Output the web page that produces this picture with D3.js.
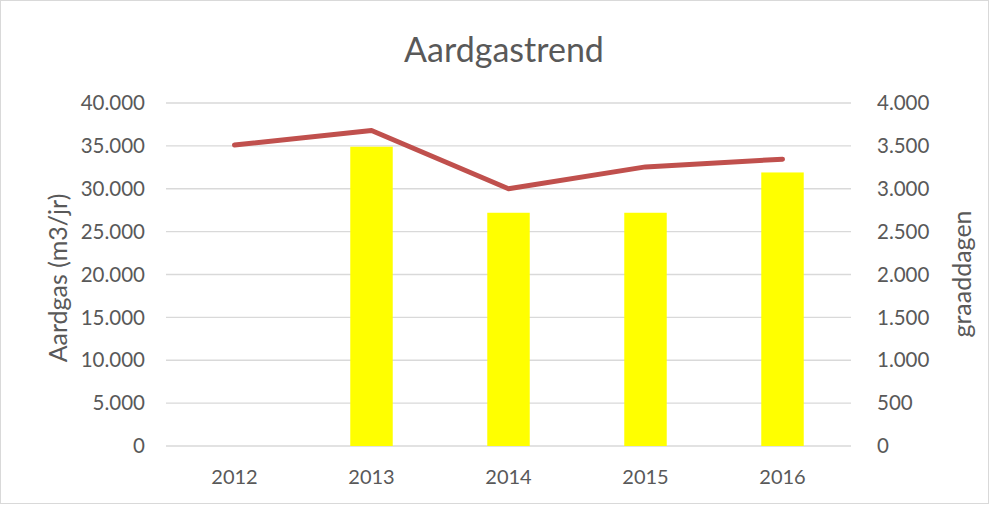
<!DOCTYPE html>
<html><head><meta charset="utf-8">
<script src="https://cdn.jsdelivr.net/npm/d3@7"></script>
<style>body{margin:0;background:#fff}text{font-family:Lato,"Open Sans",sans-serif;fill:#595959}</style>
</head><body><svg id="c" width="990" height="505"></svg>
<script>
const years = ["2012","2013","2014","2015","2016"];
const gasValues = [null, 34900, 27200, 27200, 31900];
const degreeDays = [3510, 3680, 3000, 3255, 3345];
const leftTicks = [0,5000,10000,15000,20000,25000,30000,35000,40000];
const rightTicks = [0,500,1000,1500,2000,2500,3000,3500,4000];

const svg = d3.select("#c");
const W=990,H=505, L=166, R=851, T=103, B=446;
svg.append("rect").attr("x",0.5).attr("y",0.5).attr("width",W-2).attr("height",H-2).attr("fill","#fff").attr("stroke","#d9d9d9");
const x = d3.scaleBand().domain(years).range([L,R]);
const yL = d3.scaleLinear().domain([0,40000]).range([B,T]);
const yR = d3.scaleLinear().domain([0,4000]).range([B,T]);
const fmt = d3.formatLocale({decimal:",",thousands:".",grouping:[3]}).format(",");

svg.append("g").selectAll("line").data(leftTicks).join("line")
  .attr("x1",L).attr("x2",R).attr("y1",d=>yL(d)).attr("y2",d=>yL(d))
  .attr("stroke","#d9d9d9").attr("stroke-width",1.3);
svg.append("g").selectAll("text").data(leftTicks).join("text")
  .attr("x",145).attr("y",d=>yL(d)).attr("dy","0.35em").attr("text-anchor","end")
  .attr("font-size",20.5).text(d=>fmt(d));
svg.append("g").selectAll("text").data(rightTicks).join("text")
  .attr("x",877).attr("y",d=>yR(d)).attr("dy","0.35em").attr("text-anchor","start")
  .attr("font-size",20.5).text(d=>fmt(d));

const bw = x.bandwidth()*0.31;
svg.append("g").selectAll("rect").data(years.map((y,i)=>({y,v:gasValues[i]})).filter(d=>d.v!=null)).join("rect")
  .attr("x",d=>x(d.y)+x.bandwidth()/2-bw/2).attr("width",bw)
  .attr("y",d=>yL(d.v)).attr("height",d=>B-yL(d.v)).attr("fill","#ffff00");

svg.append("path").datum(degreeDays)
  .attr("d",d3.line().x((d,i)=>x(years[i])+x.bandwidth()/2).y(d=>yR(d)))
  .attr("fill","none").attr("stroke","#c0504d").attr("stroke-width",5).attr("stroke-linecap","round").attr("stroke-linejoin","round");

svg.append("g").selectAll("text").data(years).join("text")
  .attr("x",d=>x(d)+x.bandwidth()/2).attr("y",477).attr("dy","0.35em").attr("text-anchor","middle")
  .attr("font-size",20).text(d=>d);

svg.append("text").attr("x",504).attr("y",62).attr("text-anchor","middle").attr("font-size",34).text("Aardgastrend");
svg.append("text").attr("transform","translate(58,278) rotate(-90)").attr("dy","0.35em").attr("text-anchor","middle").attr("font-size",25).text("Aardgas (m3/jr)");
svg.append("text").attr("transform","translate(962,274) rotate(-90)").attr("dy","0.35em").attr("text-anchor","middle").attr("font-size",25).text("graaddagen");
</script></body></html>
